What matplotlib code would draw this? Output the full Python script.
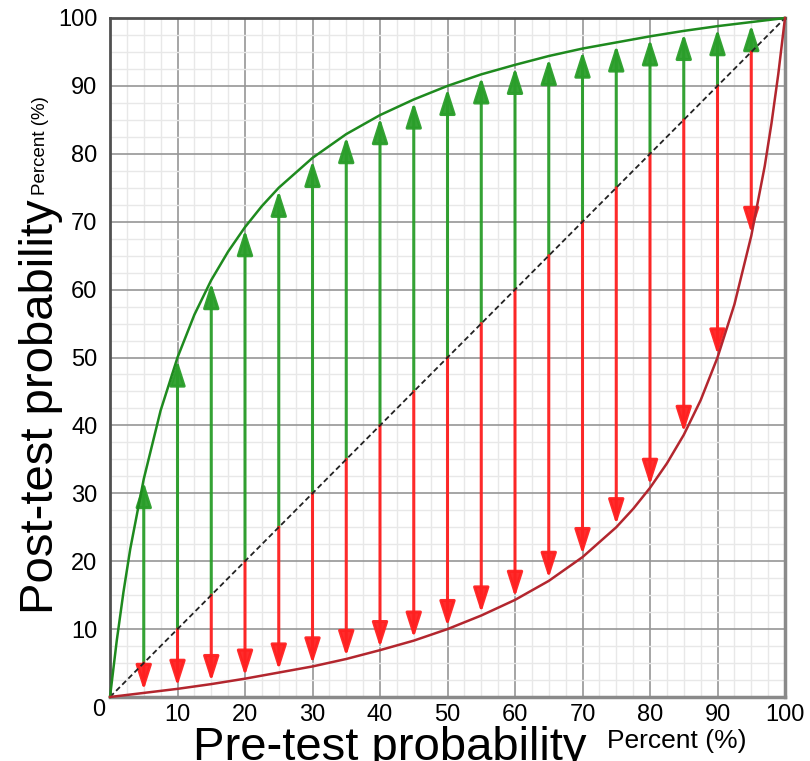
import matplotlib
matplotlib.use("Agg")
import matplotlib.pyplot as plt
from matplotlib.ticker import MultipleLocator

plt.rcParams['font.family'] = ['Liberation Sans', 'DejaVu Sans']

# ---- data ----
pre_test = [5, 10, 15, 20, 25, 30, 35, 40, 45, 50, 55, 60, 65, 70, 75, 80, 85, 90, 95]
post_positive = [32.1, 50, 61.4, 69.2, 75, 79.4, 82.9, 85.7, 88.0, 90, 91.7, 93.1,
                 94.4, 95.5, 96.4, 97.3, 98.1, 98.8, 99.4]
post_negative = [0.6, 1.2, 1.9, 2.7, 3.6, 4.5, 5.6, 6.9, 8.3, 10, 12.0, 14.3,
                 17.1, 20.6, 25, 30.8, 38.6, 50, 67.9]

pos_curve_x = [0, 1, 2, 3, 5, 7.5, 10, 12.5, 15, 17.5, 20, 22.5, 25, 30, 35, 40, 45, 50,
               55, 60, 65, 70, 75, 80, 85, 90, 95, 100]
pos_curve_y = [0, 8.3, 15.5, 21.8, 32.1, 42.2, 50, 56.3, 61.4, 65.6, 69.2, 72.3, 75, 79.4,
               82.9, 85.7, 88.0, 90, 91.7, 93.1, 94.4, 95.5, 96.4, 97.3, 98.1, 98.8, 99.4, 100]
neg_curve_x = [0, 5, 10, 15, 20, 25, 30, 35, 40, 45, 50, 55, 60, 65, 70, 75, 77.5, 80,
               82.5, 85, 87.5, 90, 92.5, 95, 97, 98, 99, 100]
neg_curve_y = [0, 0.6, 1.2, 1.9, 2.7, 3.6, 4.5, 5.6, 6.9, 8.3, 10, 12.0, 14.3, 17.1, 20.6,
               25, 27.7, 30.8, 34.4, 38.6, 43.7, 50, 57.8, 67.9, 78.2, 84.5, 91.7, 100]

tick_values = [10, 20, 30, 40, 50, 60, 70, 80, 90, 100]
tick_labels = ["10", "20", "30", "40", "50", "60", "70", "80", "90", "100"]

# ---- figure ----
fig = plt.figure(figsize=(8.1, 7.61), dpi=100)
ax = fig.add_axes([110 / 810, 64 / 761, 675 / 810, 679 / 761])

ax.set_xlim(0, 100)
ax.set_ylim(0, 100)

ax.xaxis.set_major_locator(MultipleLocator(10))
ax.yaxis.set_major_locator(MultipleLocator(10))
ax.xaxis.set_minor_locator(MultipleLocator(2.5))
ax.yaxis.set_minor_locator(MultipleLocator(2.5))
ax.grid(which='major', color='#969696', lw=1.2, zorder=0)
ax.grid(which='minor', color='#e8e8e8', lw=1.0, zorder=0)
ax.set_axisbelow(True)

ax.set_xticks(tick_values)
ax.set_xticklabels(tick_labels)
ax.set_yticks(tick_values)
ax.set_yticklabels(tick_labels)
ax.tick_params(axis='both', which='both', length=0, labelsize=17)
ax.tick_params(axis='x', pad=5)
ax.tick_params(axis='y', pad=9)

for s in ['left', 'top']:
    ax.spines[s].set_color('#505050')
    ax.spines[s].set_linewidth(2)
for s in ['right', 'bottom']:
    ax.spines[s].set_color('#8a8a8a')
    ax.spines[s].set_linewidth(2.5)

# arrows
for x, yp, yn in zip(pre_test, post_positive, post_negative):
    ax.annotate("", xy=(x, yp), xytext=(x, x),
                arrowprops=dict(arrowstyle='-|>,head_length=0.75,head_width=0.24',
                                color='#2a9e2a', lw=2.2, shrinkA=0, shrinkB=2,
                                mutation_scale=20, alpha=0.95), zorder=2)
    ax.annotate("", xy=(x, yn), xytext=(x, x),
                arrowprops=dict(arrowstyle='-|>,head_length=0.75,head_width=0.24',
                                color='#ff2020', lw=2.2, shrinkA=0, shrinkB=2,
                                mutation_scale=20, alpha=0.95), zorder=2)

# diagonal
ax.plot([0, 100], [0, 100], color='#222222', lw=1.3, ls=(0, (3, 1.8)), zorder=3)

# curves
ax.plot(pos_curve_x, pos_curve_y, color='#1e8a1e', lw=1.8, zorder=4, clip_on=False)
ax.plot(neg_curve_x, neg_curve_y, color='#b3262e', lw=1.8, zorder=4, clip_on=False)

# corner zero
fig.text(99 / 810, 1 - 710 / 761, "0", fontsize=17, ha='center', va='center')

# axis labels
fig.text(390 / 810, 0.5 / 761, "Pre-test probability", fontsize=34,
         ha='center', va='baseline')
fig.text(607 / 810, 13 / 761, "Percent (%)", fontsize=19,
         ha='left', va='baseline')
fig.text(53 / 810, 1 - 407 / 761, "Post-test probability", fontsize=34,
         rotation=90, rotation_mode='anchor', ha='center', va='baseline')
fig.text(45 / 810, 1 - 195 / 761, "Percent (%)", fontsize=13.5,
         rotation=90, rotation_mode='anchor', ha='left', va='baseline')

fig.savefig("out.png", dpi=100)
